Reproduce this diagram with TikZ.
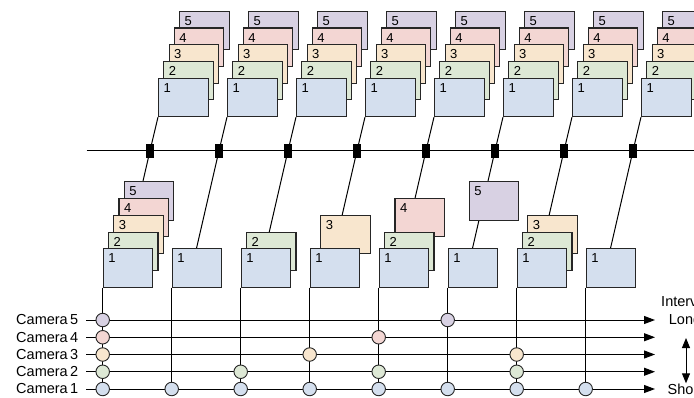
\documentclass[tikz,border=0pt]{standalone}
\usepackage{fontspec}
\setmainfont{Liberation Sans}
\usetikzlibrary{arrows.meta}

\pgfdeclarelayer{back}
\pgfsetlayers{back,main}

\definecolor{fr1}{HTML}{D4DFEE}
\definecolor{fr2}{HTML}{DDE8D5}
\definecolor{fr3}{HTML}{F8E6CE}
\definecolor{fr4}{HTML}{F3D6D3}
\definecolor{fr5}{HTML}{D8D1E3}
\definecolor{edge}{HTML}{262626}

\tikzset{
  frame/.style={draw=edge, line width=1.1pt, fill=#1, inner sep=0pt,
    minimum width=49.5pt, minimum height=38.3pt, anchor=north west},
  num/.style={anchor=north west, inner sep=0pt, xshift=5.5pt, yshift=-5.5pt,
    font=\fontsize{13}{13}\selectfont},
  junc/.style={fill=black, inner sep=0pt, minimum width=8pt, minimum height=14pt},
  cam/.style={circle, draw=edge, line width=0.9pt, fill=#1, inner sep=0pt,
    minimum size=13.5pt},
  wire/.style={line width=1pt, black},
  tip/.style={-{Triangle[length=11pt,width=8pt]}},
  txt/.style={inner sep=0pt, font=\fontsize{14.5}{18}\selectfont}
}

\begin{document}
\begin{tikzpicture}[x=1pt,y=-1pt]
\useasboundingbox (0,0) rectangle (694,397);
\clip (0,0) rectangle (694,397);

% upper stacks
\foreach \k in {0,...,7}{
  \foreach \f in {5,4,3,2,1}
    \node[frame=fr\f, label={[num]north west:\f}] (t\k-\f)
      at ({158+69*\k+5.25*(\f-1)},{77.7-16.75*(\f-1)}) {};
}

% bus and junctions
\coordinate (busL) at (86.7,150.7);
\coordinate (busR) at (694,150.7);
\foreach \k in {0,...,7}
  \node[junc] (j\k) at ({150+69*\k},150.7) {};

% lower stacks
\foreach \k/\fs in {0/{5,4,3,2,1},1/{1},2/{2,1},3/{3,1},4/{4,2,1},5/{5,1},6/{3,2,1},7/{1}}{
  \foreach \f in \fs
    \node[frame=fr\f, label={[num]north west:\f}] (b\k-\f)
      at ({102.7+69*\k+5.25*(\f-1)},{248.3-16.75*(\f-1)}) {};
  \coordinate (d\k) at ({127.5+69*\k},248.3);
}

% camera rows
\foreach \f in {1,...,5}{
  \node[txt, anchor=east] (cam\f) at (78.5,{389-17.25*(\f-1)}) {Camera\,\f};
  \coordinate (s\f) at (86,{389-17.25*(\f-1)});
  \coordinate (e\f) at (655,{389-17.25*(\f-1)});
}
\foreach \k/\fs in {0/{5,4,3,2,1},1/{1},2/{2,1},3/{3,1},4/{4,2,1},5/{5,1},6/{3,2,1},7/{1}}{
  \foreach \f in \fs
    \node[cam=fr\f] (c\k-\f) at ({102.7+69*\k},{389-17.25*(\f-1)}) {};
}

% interval scale
\node[txt, align=center] (intv) at (685,311.7) {Interval\\Long};
\node[txt] (short) at (685,389.3) {Short};
\coordinate (hi) at (686,338);
\coordinate (lo) at (686,383.3);

\begin{pgfonlayer}{back}
\draw[wire] (busL) -- (busR);
\foreach \k in {0,...,7}{
  \draw[wire] (t\k-1.south west) -- (j\k.center) -- (d\k);
  \draw[wire] (b\k-1.south west) -- (c\k-1.center);
}
\foreach \f in {1,...,5}
  \draw[wire, tip] (s\f) -- (e\f);
\draw[wire, {Triangle[length=10pt,width=8pt]}-{Triangle[length=10pt,width=8pt]}] (hi) -- (lo);
\end{pgfonlayer}
\end{tikzpicture}
\end{document}
